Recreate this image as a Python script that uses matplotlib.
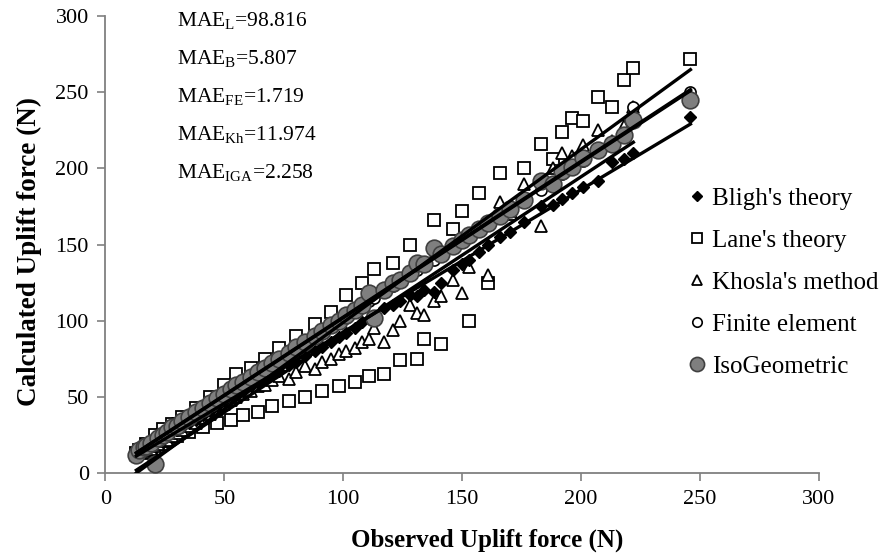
import numpy as np
import matplotlib.pyplot as plt

# observed uplift force (N)
obs = [13, 14, 16, 17, 19, 21, 22, 24, 26, 28, 30, 32, 35, 38, 41, 44,
       47, 50, 53, 55, 58, 61, 64, 67, 70, 73, 77, 80, 84, 88, 91, 95,
       98, 101, 105, 108, 111, 113, 117, 121, 124, 128, 131, 134, 138, 141,
       146, 150, 153, 157, 161, 166, 170, 176, 183, 188, 192, 196, 201, 207,
       213, 218, 222, 246]

bligh = [12, 13, 15, 16, 17, 19, 21, 22, 24, 33, 28, 30, 33, 35, 38, 41,
         44, 47, 49, 51, 54, 57, 59, 62, 65, 67, 71, 73, 77, 80, 83, 86,
         89, 92, 95, 99, 101, 103, 108, 110, 113, 117, 116, 120, 119, 125,
         133, 137, 140, 145, 150, 155, 158, 165, 175, 176, 180, 184, 188, 192,
         204, 206, 210, 234]

lane = [13, 15, 13, 19, 16, 25, 19, 29, 21, 32, 24, 37, 27, 43, 30, 50,
        33, 58, 35, 65, 38, 69, 40, 75, 44, 82, 47, 90, 50, 98, 54, 106,
        57, 117, 60, 125, 64, 134, 65, 138, 74, 150, 75, 88, 166, 85,
        160, 172, 100, 184, 125, 197, 170, 200, 216, 206, 224, 233, 231, 247,
        240, 258, 266, 272]

khosla = [12, 13, 14, 15, 16, 18, 19, 21, 22, 24, 26, 28, 31, 33, 36, 39,
          42, 45, 48, 50, 52, 54, 57, 58, 61, 64, 62, 66, 70, 68, 73, 75,
          78, 80, 82, 86, 88, 95, 86, 94, 100, 110, 105, 104, 113, 116,
          127, 118, 135, 160, 130, 178, 172, 190, 162, 200, 210, 208, 215, 225,
          218, 228, 240]

fe = [13, 15, 17, 18, 20, 22, 23, 25, 27, 29, 31, 33, 36, 39, 42, 45,
      48, 51, 54, 56, 59, 62, 65, 68, 71, 74, 78, 81, 85, 89, 92, 96,
      99, 102, 106, 109, 113, 115, 119, 123, 126, 130, 133, 136, 140, 143,
      148, 152, 155, 159, 163, 168, 172, 178, 186, 191, 196, 200, 205, 211,
      217, 223, 240, 250]

iga = [12, 15, 17, 18, 20, 6, 23, 25, 27, 30, 31, 34, 37, 40, 43, 46,
       49, 52, 55, 58, 60, 63, 66, 69, 72, 75, 79, 83, 86, 90, 93, 97,
       100, 104, 107, 110, 118, 102, 120, 125, 127, 131, 138, 137, 148, 144,
       149, 153, 156, 160, 164, 169, 173, 179, 192, 190, 198, 201, 207, 212,
       216, 222, 232, 245]

mae_labels = [r'MAE$_\mathrm{L}$=98.816', r'MAE$_\mathrm{B}$=5.807',
              r'MAE$_\mathrm{FE}$=1.719', r'MAE$_\mathrm{Kh}$=11.974',
              r'MAE$_\mathrm{IGA}$=2.258']

plt.rcParams['font.family'] = 'Liberation Serif'
plt.rcParams['mathtext.fontset'] = 'custom'
plt.rcParams['mathtext.rm'] = 'Liberation Serif'
plt.rcParams['mathtext.it'] = 'Liberation Serif:italic'

fig = plt.figure(figsize=(8.84, 5.58), dpi=100)
ax = fig.add_axes([0.1193, 0.1523, 0.807, 0.819])

ax.plot(obs, bligh, 'D', ms=6, mfc='black', mec='black', label="Bligh's theory", zorder=3)
ax.plot(obs, lane, 's', ms=9, mfc='white', mec='black', mew=1.3, label="Lane's theory", zorder=2)
ax.plot(obs[:-1], khosla, '^', ms=8, mfc='white', mec='black', mew=1.3, label="Khosla's method", zorder=2.5)
ax.plot(obs, fe, 'o', ms=8, mfc='white', mec='black', mew=1.2, label='Finite element', zorder=3)
ax.plot(obs, iga, 'o', ms=12, mfc='#7f7f7f', mec='#404040', mew=1.2, label='IsoGeometric', zorder=3.5)

# linear trend lines
for xs, ys in [(obs, lane), (obs, fe), (obs, iga), (obs, bligh), (obs[:-1], khosla)]:
    k, b = np.polyfit(xs, ys, 1)
    xx = np.array([min(xs), max(xs)])
    ax.plot(xx, k * xx + b, color='black', lw=2.4, zorder=4)

for i, t in enumerate(mae_labels):
    ax.text(30, 297 - 25 * i, t, fontsize=15.5, va='center', ha='left')

ax.set_xlim(0, 300)
ax.set_ylim(0, 300)
ax.set_xticks(range(0, 301, 50))
ax.set_yticks(range(0, 301, 50))
for s in ['top', 'right']:
    ax.spines[s].set_visible(False)
for s in ['left', 'bottom']:
    ax.spines[s].set_color('#808080')
    ax.spines[s].set_linewidth(1.3)
ax.tick_params(direction='out', length=6, width=1.2, color='#808080', labelsize=16, pad=6)

ax.set_xlabel('Observed Uplift force (N)', fontsize=18, fontweight='bold')
ax.set_ylabel('Calculated Uplift force (N)', fontsize=19.5, fontweight='bold')
ax.xaxis.set_label_coords(0.535, -0.122)
ax.yaxis.set_label_coords(-0.089, 0.484)

fig.legend(loc='center left', bbox_to_anchor=(0.746, 0.494), frameon=False,
           fontsize=18, handletextpad=0.0, handlelength=1.2, labelspacing=0.78,
           markerscale=0.85)

fig.savefig('out.png', dpi=100)
